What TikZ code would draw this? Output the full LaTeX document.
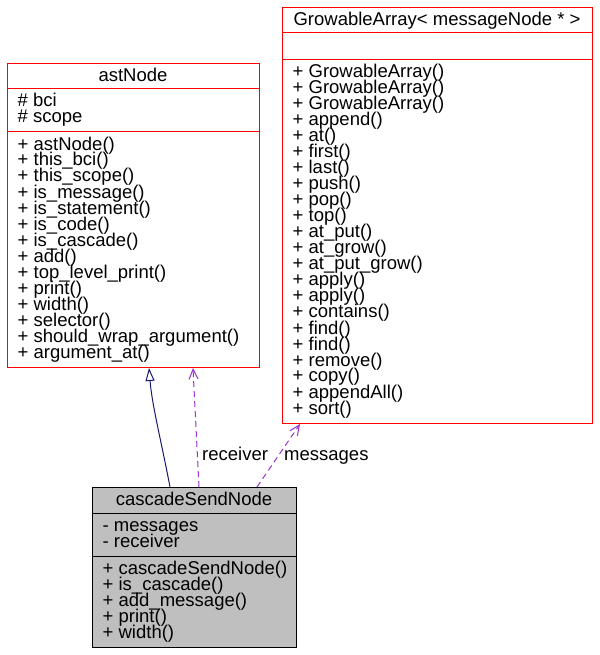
\documentclass[tikz,border=0pt]{standalone}
\usepackage{fontspec}
\setmainfont{Liberation Sans}
\usetikzlibrary{arrows.meta}
\definecolor{edgeblue}{HTML}{191970}
\definecolor{edgepurple}{HTML}{9A32CD}
\definecolor{boxgray}{HTML}{BFBFBF}
\newcommand\mylines[1]{\fontsize{18.5}{16}\selectfont\lineskiplimit=-100pt\lineskip=0pt\vtop{#1}}
\begin{document}
\begin{tikzpicture}[x=1pt,y=-1pt,
  classbox/.style={draw=red, fill=white, line width=1pt, inner sep=0pt, anchor=north west},
  mainbox/.style={draw=black, fill=boxgray, line width=1pt, inner sep=0pt, anchor=north west},
  redsep/.style={draw=red, line width=1pt},
  blacksep/.style={draw=black, line width=1pt},
  txt/.style={inner sep=0pt, anchor=base west},
  ttl/.style={inner sep=0pt, anchor=base, font=\fontsize{18.5}{16}\selectfont},
  inherit/.style={draw=edgeblue, line width=1pt, -{Triangle[open,length=13pt,width=9pt]}},
  uses/.style={draw=edgepurple, line width=1pt, dash pattern=on 6pt off 4pt, -{Straight Barb[length=10pt,width=9pt]}},
  lbl/.style={inner sep=0pt, anchor=base west, font=\fontsize{18.5}{16}\selectfont}]

\useasboundingbox (0,0) rectangle (599,655);

% astNode
\node[classbox, minimum width=252pt, minimum height=304pt] (astNode) at (7,63) {};
\draw[redsep] ([yshift=-26pt]astNode.north west) -- ([yshift=-26pt]astNode.north east);
\draw[redsep] ([yshift=-69pt]astNode.north west) -- ([yshift=-69pt]astNode.north east);
\node[ttl] (astNodeT) at (133,81.5) {astNode};
\node[txt] (astNodeA) at (17.5,107) {\mylines{\hbox{\# bci}\hbox{\# scope}}};
\node[txt] (astNodeM) at (17.5,150) {\mylines{%
\hbox{+ astNode()}\hbox{+ this\_bci()}\hbox{+ this\_scope()}\hbox{+ is\_message()}%
\hbox{+ is\_statement()}\hbox{+ is\_code()}\hbox{+ is\_cascade()}\hbox{+ add()}%
\hbox{+ top\_level\_print()}\hbox{+ print()}\hbox{+ width()}\hbox{+ selector()}%
\hbox{+ should\_wrap\_argument()}\hbox{+ argument\_at()}}};

% GrowableArray
\node[classbox, minimum width=310pt, minimum height=416pt] (growable) at (282,7) {};
\draw[redsep] ([yshift=-26pt]growable.north west) -- ([yshift=-26pt]growable.north east);
\draw[redsep] ([yshift=-53pt]growable.north west) -- ([yshift=-53pt]growable.north east);
\node[ttl] (growableT) at (437,25.5) {GrowableArray< messageNode * >};
\node[txt] (growableM) at (292.5,78) {\mylines{%
\hbox{+ GrowableArray()}\hbox{+ GrowableArray()}\hbox{+ GrowableArray()}\hbox{+ append()}%
\hbox{+ at()}\hbox{+ first()}\hbox{+ last()}\hbox{+ push()}\hbox{+ pop()}\hbox{+ top()}%
\hbox{+ at\_put()}\hbox{+ at\_grow()}\hbox{+ at\_put\_grow()}\hbox{+ apply()}\hbox{+ apply()}%
\hbox{+ contains()}\hbox{+ find()}\hbox{+ find()}\hbox{+ remove()}\hbox{+ copy()}%
\hbox{+ appendAll()}\hbox{+ sort()}}};

% cascadeSendNode
\node[mainbox, minimum width=204pt, minimum height=160pt] (cascade) at (92,487) {};
\draw[blacksep] ([yshift=-26pt]cascade.north west) -- ([yshift=-26pt]cascade.north east);
\draw[blacksep] ([yshift=-69pt]cascade.north west) -- ([yshift=-69pt]cascade.north east);
\node[ttl] (cascadeT) at (194,505.5) {cascadeSendNode};
\node[txt] (cascadeA) at (102.5,531) {\mylines{\hbox{- messages}\hbox{- receiver}}};
\node[txt] (cascadeM) at (102.5,574) {\mylines{%
\hbox{+ cascadeSendNode()}\hbox{+ is\_cascade()}\hbox{+ add\_message()}%
\hbox{+ print()}\hbox{+ width()}}};

% connectors
\draw[inherit] ([xshift=78pt]cascade.north west) .. controls (161,440) and (152,405) .. ([xshift=142pt]astNode.south west);
\draw[uses] ([xshift=107pt]cascade.north west) -- ([xshift=186pt]astNode.south west);
\draw[uses] ([xshift=165pt]cascade.north west) -- ([xshift=18pt]growable.south west);
\node[lbl] (recvL) at (202,460) {receiver};
\node[lbl] (msgL) at (284,460) {messages};
\end{tikzpicture}
\end{document}
